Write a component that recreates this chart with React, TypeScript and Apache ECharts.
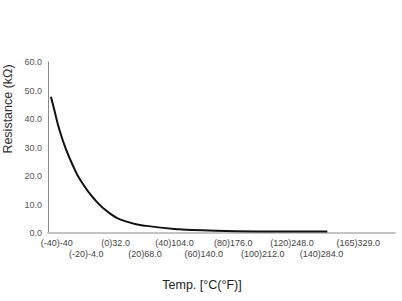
import React, { useEffect, useRef } from "react";
import * as echarts from "echarts";

// Temperature tick positions (°C) and their labels
const TICK_TEMPS_C = [-40, -20, 0, 20, 40, 60, 80, 100, 120, 140, 165];
const TICK_LABELS = [
  "(-40)-40",
  "(-20)-4.0",
  "(0)32.0",
  "(20)68.0",
  "(40)104.0",
  "(60)140.0",
  "(80)176.0",
  "(100)212.0",
  "(120)248.0",
  "(140)284.0",
  "(165)329.0",
];

// Curve: temperature (°C) and resistance (kΩ)
const CURVE_TEMP = [-44, -42, -38.5, -34, -28.3, -24, -15, -4, 7.5, 21, 43, 59, 82, 112, 144];
const CURVE_RES = [47.8, 43.8, 36.7, 29.7, 22.8, 18.6, 12.2, 6.9, 4.0, 2.5, 1.3, 1.0, 0.6, 0.5, 0.5];

const FONT = "Liberation Sans, Arial, Helvetica, sans-serif";
const X_MIN = -46;
const X_MAX = 190;

const ROW1_VALUES = TICK_TEMPS_C.filter((_, i) => i % 2 === 0);
const ROW2_VALUES = TICK_TEMPS_C.filter((_, i) => i % 2 === 1);

function labelFor(v: number) {
  const idx = TICK_TEMPS_C.indexOf(v);
  return idx < 0 ? "" : TICK_LABELS[idx];
}

export default function App() {
  const ref = useRef<HTMLDivElement>(null);

  useEffect(() => {
    if (!ref.current) return;
    const chart = echarts.init(ref.current, undefined, { renderer: "svg" });
    const data = CURVE_TEMP.map((t, i) => [t, CURVE_RES[i]]);
    const labelBase = {
      showMinLabel: true,
      showMaxLabel: true,
      hideOverlap: false,
      fontSize: 9,
      color: "#444",
      fontFamily: FONT,
      formatter: labelFor,
    };
    chart.setOption({
      animation: false,
      backgroundColor: "#ffffff",
      grid: { left: 48, right: 7, top: 62, bottom: 68, containLabel: false },
      xAxis: [
        {
          type: "value",
          position: "bottom",
          min: X_MIN,
          max: X_MAX,
          splitLine: { show: false },
          axisTick: { show: false },
          axisLine: { show: true, onZero: false, lineStyle: { color: "#c4c4c4", width: 2 } },
          axisLabel: { ...labelBase, customValues: ROW1_VALUES, margin: 5 },
        },
        {
          type: "value",
          position: "bottom",
          min: X_MIN,
          max: X_MAX,
          splitLine: { show: false },
          axisTick: { show: false },
          axisLine: { show: false, onZero: false },
          axisLabel: { ...labelBase, customValues: ROW2_VALUES, margin: 16 },
        },
      ],
      yAxis: {
        type: "value",
        min: 0,
        max: 60,
        interval: 10,
        splitLine: { show: false },
        axisTick: { show: false },
        axisLine: { show: true, onZero: false, lineStyle: { color: "#8a8a8a", width: 1 } },
        axisLabel: {
          margin: 6,
          fontSize: 9,
          color: "#555",
          fontFamily: FONT,
          formatter: (v: number) => v.toFixed(1),
        },
      },
      graphic: [
        {
          type: "text",
          x: 8,
          y: 109,
          rotation: Math.PI / 2,
          style: {
            text: "Resistance (kΩ)",
            fontSize: 12.5,
            fontFamily: FONT,
            fill: "#333",
            align: "center",
            verticalAlign: "middle",
          },
        },
        {
          type: "text",
          x: 202,
          y: 285,
          style: {
            text: "Temp. [°C(°F)]",
            fontSize: 12.5,
            fontFamily: FONT,
            fill: "#222",
            align: "center",
            verticalAlign: "middle",
          },
        },
      ],
      series: [
        {
          type: "line",
          xAxisIndex: 0,
          data,
          smooth: 0.5,
          showSymbol: false,
          symbol: "none",
          lineStyle: { color: "#111", width: 2 },
        },
      ],
    });
    return () => chart.dispose();
  }, []);

  return <div ref={ref} style={{ width: 402, height: 301, position: "absolute", left: 0, top: 0 }} />;
}
